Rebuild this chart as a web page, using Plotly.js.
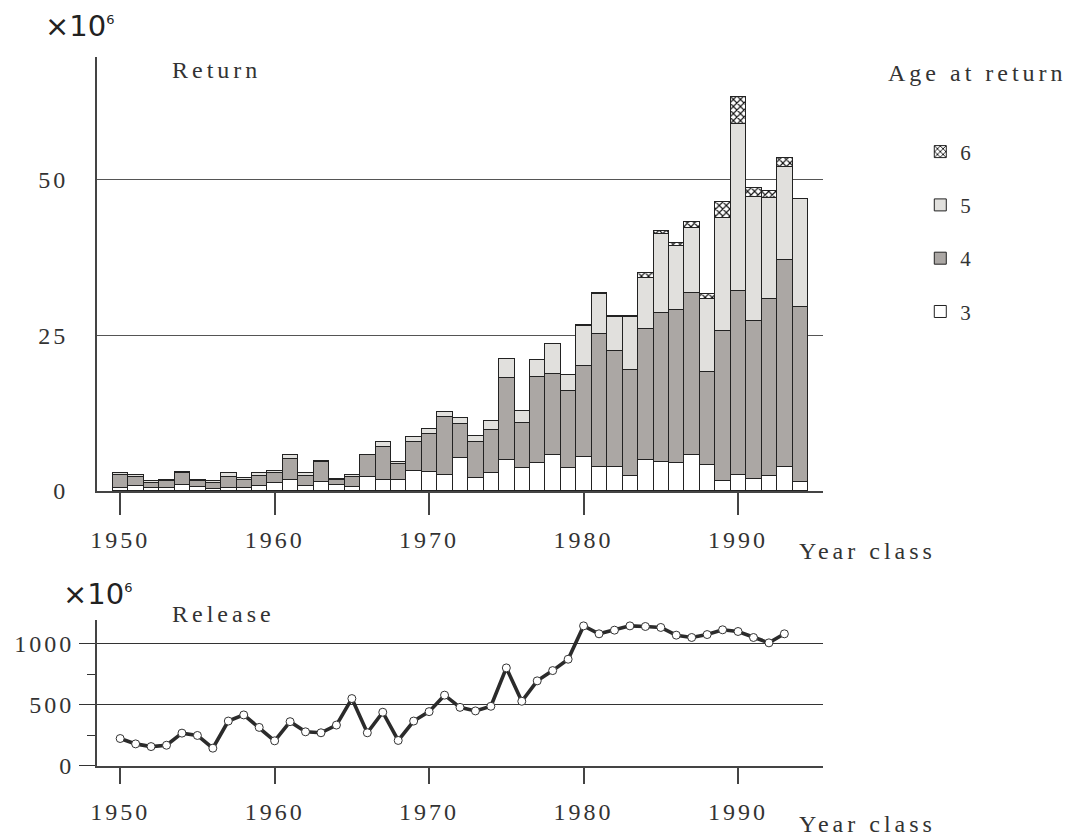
<!DOCTYPE html>
<html>
<head>
<meta charset="utf-8">
<script src="https://cdn.plot.ly/plotly-3.0.1.min.js"></script>
<style>
  body { margin: 0; background: #fff; }
  #chart { width: 1083px; height: 840px; }
  /* wide, typewriter-like spacing as in the original figure */
  #chart text { letter-spacing: 3px; }
  #chart g.annotation text { letter-spacing: 4px; }
  #chart g.annotation[data-index="0"] text,
  #chart g.annotation[data-index="1"] text { letter-spacing: 0; }
</style>
</head>
<body>
<div id="chart"></div>
<script>
// year classes (top: return, bottom: release)
var years = [1950, 1951, 1952, 1953, 1954, 1955, 1956, 1957, 1958, 1959,
             1960, 1961, 1962, 1963, 1964, 1965, 1966, 1967, 1968, 1969,
             1970, 1971, 1972, 1973, 1974, 1975, 1976, 1977, 1978, 1979,
             1980, 1981, 1982, 1983, 1984, 1985, 1986, 1987, 1988, 1989,
             1990, 1991, 1992, 1993, 1994];

// return by age (x10^6 fish)
var age3 = [0.6, 0.9, 0.5, 0.5, 1.1, 0.7, 0.4, 0.5, 0.5, 0.8,
            1.4, 1.8, 0.9, 1.55, 1.0, 0.7, 2.4, 1.8, 1.8, 3.3,
            3.1, 2.7, 5.3, 2.2, 3.0, 5.1, 3.7, 4.6, 5.9, 3.8,
            5.6, 4.0, 4.0, 2.5, 5.1, 4.65, 4.5, 5.9, 4.3, 1.7,
            2.7, 2.0, 2.5, 4.0, 1.5];
var age4 = [2.1, 1.5, 0.9, 1.2, 1.9, 1.0, 0.9, 1.8, 1.4, 1.7,
            1.6, 3.4, 1.6, 3.15, 0.8, 1.7, 3.4, 5.4, 2.6, 4.7,
            6.1, 9.3, 5.6, 5.8, 6.8, 13.1, 7.3, 13.7, 12.9, 12.3,
            14.5, 21.2, 18.5, 17.0, 20.9, 24.0, 24.6, 26.0, 14.8, 24.1,
            29.5, 25.3, 28.3, 33.1, 28.1];
var age5 = [0.3, 0.2, 0.3, 0.2, 0.2, 0.2, 0.4, 0.7, 0.2, 0.5,
            0.3, 0.6, 0.4, 0.2, 0.2, 0.2, 0.1, 0.8, 0.4, 0.7,
            0.8, 0.8, 0.9, 0.9, 1.5, 3.0, 1.9, 2.8, 4.9, 2.6,
            6.4, 6.4, 5.5, 8.5, 8.3, 12.7, 10.2, 10.3, 11.7, 18.1,
            26.8, 20.0, 16.3, 14.9, 17.3];
var age6 = [0, 0, 0, 0, 0, 0, 0, 0, 0, 0,
            0, 0, 0, 0, 0, 0, 0, 0, 0, 0,
            0, 0, 0, 0, 0, 0, 0, 0, 0, 0,
            0.2, 0.2, 0.1, 0.1, 0.8, 0.5, 0.5, 1.0, 0.9, 2.6,
            4.3, 1.4, 1.1, 1.5, 0];

// release (x10^6 fry), 1950-1993
var relYears = [1950, 1951, 1952, 1953, 1954, 1955, 1956, 1957, 1958, 1959,
                1960, 1961, 1962, 1963, 1964, 1965, 1966, 1967, 1968, 1969,
                1970, 1971, 1972, 1973, 1974, 1975, 1976, 1977, 1978, 1979,
                1980, 1981, 1982, 1983, 1984, 1985, 1986, 1987, 1988, 1989,
                1990, 1991, 1992, 1993];
var release = [225, 181, 159, 170, 269, 250, 146, 368, 418, 316,
               206, 363, 280, 272, 335, 552, 272, 440, 209, 368,
               445, 580, 480, 451, 489, 803, 530, 697, 781, 874,
               1147, 1082, 1112, 1147, 1142, 1134, 1071, 1052, 1076, 1115,
               1101, 1052, 1008, 1082];

var serif = 'Liberation Serif';
var ink = '#333';
var barLine = { color: '#222', width: 1 };

// rank: legend lists 6 at the top, 3 at the bottom
function ageBar(vals, name, color, rank, pattern) {
  var t = {
    x: years, y: vals, name: name, type: 'bar',
    legendgroup: name, legendrank: rank,
    marker: { color: color, line: barLine },
    xaxis: 'x', yaxis: 'y'
  };
  if (pattern) t.marker.pattern = pattern;
  return t;
}

var data = [
  ageBar(age3, '3', '#ffffff', 4),
  ageBar(age4, '4', '#aba7a4', 3),
  ageBar(age5, '5', '#e1e0dd', 2),
  ageBar(age6, '6', '#ffffff', 1, { shape: 'x', bgcolor: '#ffffff', fgcolor: '#111', size: 5, solidity: 0.4 }),
  {
    x: relYears, y: release, type: 'scatter', mode: 'lines+markers',
    name: 'Release', showlegend: false,
    line: { color: '#2b2b2b', width: 3.6 },
    marker: { symbol: 'circle', size: 8, color: '#fff', line: { color: '#333', width: 1 } },
    xaxis: 'x2', yaxis: 'y2'
  }
];

var xCommon = {
  range: [1948.5, 1995.5],
  tick0: 1950, dtick: 10,
  showline: true, linecolor: '#444', linewidth: 2,
  showgrid: false, zeroline: false,
  ticks: 'outside', tickcolor: '#444', tickwidth: 2,
  tickfont: { family: serif, size: 24, color: ink }
};

function note(text, x, y, font) {
  return { text: text, xref: 'paper', yref: 'paper', x: x, y: y,
           xanchor: 'left', yanchor: 'middle', align: 'left', showarrow: false,
           font: font || { family: serif, size: 24, color: ink } };
}

var sciFont = { family: 'DejaVu Sans', size: 29, color: '#222' };
var sciText = '×10<sup><span style="font-size:13px">6</span></sup>';

var layout = {
  width: 1083, height: 840,
  margin: { l: 97, r: 260, t: 57, b: 74 },
  paper_bgcolor: '#fff', plot_bgcolor: '#fff',
  barmode: 'stack', bargap: 0,
  font: { family: serif, color: ink },
  showlegend: true,
  legend: {
    x: 1.134, xanchor: 'left', y: 0.895, yanchor: 'top',
    traceorder: 'grouped', tracegroupgap: 23,
    itemwidth: 30,
    font: { family: serif, size: 21, color: ink }
  },
  xaxis: Object.assign({}, xCommon, { anchor: 'y', ticklen: 22, ticklabelstandoff: 4 }),
  yaxis: {
    domain: [0.3879, 1], range: [0, 69.6],
    tickvals: [0, 25, 50],
    showline: true, linecolor: '#444', linewidth: 2,
    showgrid: true, gridcolor: '#555', gridwidth: 1,
    zeroline: false, ticks: '', ticklabelstandoff: 22,
    tickfont: { family: serif, size: 24, color: ink }
  },
  xaxis2: Object.assign({}, xCommon, { anchor: 'y2', ticklen: 16, ticklabelstandoff: 7 }),
  yaxis2: {
    domain: [0, 0.2059], range: [0, 1195],
    tickvals: [0, 500, 1000],
    showline: true, linecolor: '#444', linewidth: 2,
    showgrid: true, gridcolor: '#333', gridwidth: 1,
    zeroline: false,
    ticks: 'outside', ticklen: 16, tickwidth: 1, tickcolor: '#333',
    minor: { dtick: 250, ticks: 'outside', ticklen: 8, tickwidth: 1, tickcolor: '#333', showgrid: false },
    tickfont: { family: serif, size: 24, color: ink }
  },
  annotations: [
    note(sciText, -0.0744, 1.0437, sciFont),
    note(sciText, -0.0496, 0.2426, sciFont),
    note('Return', 0.1006, 0.9817),
    note('Release', 0.1006, 0.2144),
    note('Age at return', 1.0868, 0.9774),
    note('Year class', 0.9642, 0.3032),
    note('Year class', 0.9642, -0.0818)
  ]
};

Plotly.newPlot('chart', data, layout, { displayModeBar: false, staticPlot: true });
</script>
</body>
</html>
